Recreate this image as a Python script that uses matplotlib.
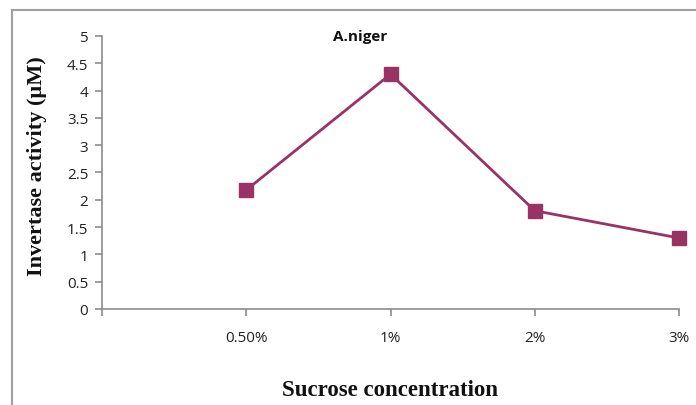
#!/usr/bin/env python
# Invertase activity vs sucrose concentration (A.niger)

import matplotlib
matplotlib.use('Agg')
import matplotlib.pyplot as plt
from matplotlib.lines import Line2D

# data
categories = ['0.50%', '1%', '2%', '3%']
activity = [2.18, 4.30, 1.80, 1.30]

lineColor = '#993366'
axisGray = '#8c8c8c'

fig = plt.figure(figsize=(6.96, 4.06), dpi=100)
ax = fig.add_axes([0.1466, 0.2365, 0.9756 - 0.1466, 0.9089 - 0.2365])

# points sit on positions 1..n, an empty slot at 0 like the original
xPos = list(range(1, len(categories) + 1))
ax.plot(xPos, activity, color=lineColor, linewidth=2.0, marker='s',
        markersize=10, markerfacecolor=lineColor, markeredgecolor=lineColor,
        clip_on=False)

ax.set_xlim(0, len(categories))
ax.set_ylim(0, 5)
ax.set_xticks([0] + xPos)
ax.set_xticklabels([''] + categories)
ax.set_yticks([i * 0.5 for i in range(11)])
ax.set_yticklabels(['0', '0.5', '1', '1.5', '2', '2.5', '3', '3.5', '4', '4.5', '5'])

for side in ('top', 'right'):
    ax.spines[side].set_visible(False)
for side in ('left', 'bottom'):
    ax.spines[side].set_color(axisGray)
    ax.spines[side].set_linewidth(1.2)

ax.tick_params(axis='both', colors=axisGray, length=5, width=1.2,
               labelcolor='#222222', labelsize=11)
ax.tick_params(axis='x', pad=10)
ax.tick_params(axis='y', pad=5)
for lbl in ax.get_xticklabels() + ax.get_yticklabels():
    lbl.set_family('Open Sans')

# title and axis labels
fig.text(360 / 696, 1 - 37 / 406, 'A.niger', ha='center', va='center',
         family='Open Sans', fontweight='bold', fontsize=11, color='#111111')
fig.text(390 / 696, 1 - 391 / 406, 'Sucrose concentration', ha='center', va='center',
         family='Liberation Serif', fontweight='bold', fontsize=16.5, color='#111111')
fig.text(37 / 696, 1 - 166 / 406, 'Invertase activity (\u00b5M)', ha='center', va='center',
         rotation=90, family='Liberation Serif', fontweight='bold', fontsize=16,
         color='#111111')

# outer chart frame (top and left edges visible)
fig.add_artist(Line2D([12 / 696, 12 / 696], [0, 1 - 11 / 406], transform=fig.transFigure,
                      color='#a0a0a0', linewidth=1.5))
fig.add_artist(Line2D([12 / 696, 1], [1 - 11 / 406, 1 - 11 / 406], transform=fig.transFigure,
                      color='#a0a0a0', linewidth=1.5))

fig.savefig('out.png', dpi=100)
